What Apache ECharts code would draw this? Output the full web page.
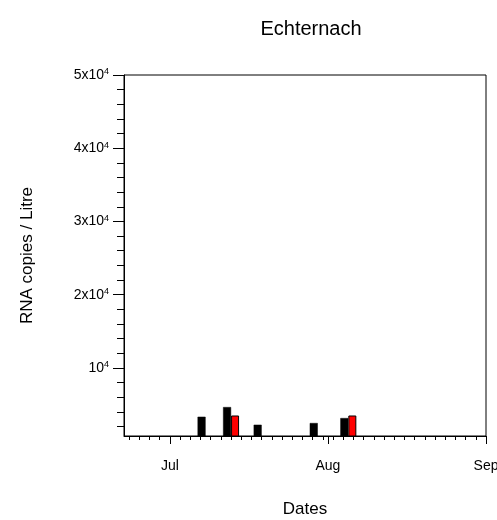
<!DOCTYPE html>
<html><head><meta charset="utf-8">
<script src="https://cdn.jsdelivr.net/npm/echarts@6/dist/echarts.min.js"></script>
<style>html,body{margin:0;padding:0;background:#fff}#c{width:497px;height:520px}</style>
</head><body><div id="c"></div>
<script>
// days counted from 1 July
const blackDays = [7, 12, 18, 29, 35]
const blackVals = [3330, 4650, 2240, 2470, 3150]
const redDays = [12, 35]
const redVals = [3500, 3500]
const monthDays = [0, 31, 62]
const monthNames = ['Jul', 'Aug', 'Sep']
const yLabels = [10000, 20000, 30000, 40000, 50000]

let minorX = []
for (let d = -8; d <= 62; d += 2) minorX.push(d)
let minorY = []
for (let v = 2000; v <= 50000; v += 2000) minorY.push(v)

const font = 'Liberation Sans'
const chart = echarts.init(document.getElementById('c'))

const xBase = { type: 'value', min: -9, max: 62, position: 'bottom' }
const yBase = { type: 'value', min: 700, max: 50000, position: 'left' }

chart.setOption({
  animation: false,
  textStyle: { fontFamily: font },
  title: { text: 'Echternach', left: 306, top: 14, textAlign: 'center',
    textStyle: { fontFamily: font, fontWeight: 'normal', fontSize: 20, color: '#000' } },
  grid: { left: 124, right: 11, top: 75, bottom: 84, show: true, borderColor: '#000', borderWidth: 1,
    outerBoundsMode: 'none' },
  xAxis: [
    Object.assign({}, xBase, {
      name: 'Dates', nameLocation: 'middle', nameGap: 65,
      nameTextStyle: { fontSize: 17, color: '#000', fontFamily: font },
      axisLine: { onZero: false, lineStyle: { color: '#000' } },
      splitLine: { show: false },
      axisTick: { length: 8, lineStyle: { color: '#000' }, customValues: monthDays },
      axisLabel: { customValues: monthDays, margin: 23, fontSize: 14, color: '#000',
        formatter: v => monthNames[monthDays.indexOf(v)] }
    }),
    Object.assign({}, xBase, {
      axisLine: { show: false, onZero: false }, splitLine: { show: false },
      axisTick: { length: 4, lineStyle: { color: '#000' }, customValues: minorX },
      axisLabel: { show: false }
    })
  ],
  yAxis: [
    Object.assign({}, yBase, {
      name: 'RNA copies / Litre', nameLocation: 'middle', nameGap: 88,
      nameTextStyle: { fontSize: 17, color: '#000', fontFamily: font },
      axisLine: { show: true, onZero: false, lineStyle: { color: '#000' } },
      splitLine: { show: false },
      axisTick: { show: true, length: 11, lineStyle: { color: '#000' }, customValues: yLabels },
      axisLabel: { customValues: yLabels, margin: 15, color: '#000', fontSize: 14,
        formatter: v => {
          const m = v / 10000
          return (m === 1 ? '' : m + 'x') + '10{s|4}'
        },
        rich: { s: { fontSize: 9, verticalAlign: 'top', color: '#000', padding: [0, 0, 6, 0] } } }
    }),
    Object.assign({}, yBase, {
      axisLine: { show: false, onZero: false }, splitLine: { show: false },
      axisTick: { show: true, length: 7, lineStyle: { color: '#000' }, customValues: minorY },
      axisLabel: { show: false }
    })
  ],
  series: [
    { type: 'bar', barWidth: 8, barGap: '0%',
      data: blackDays.map((d, i) => [d, blackVals[i]]),
      itemStyle: { color: '#000', borderColor: '#000', borderWidth: 0.5 } },
    { type: 'bar', barWidth: 8, barGap: '0%',
      data: redDays.map((d, i) => [d, redVals[i]]),
      itemStyle: { color: '#ff0000', borderColor: '#000', borderWidth: 1 } }
  ]
})
</script></body></html>
